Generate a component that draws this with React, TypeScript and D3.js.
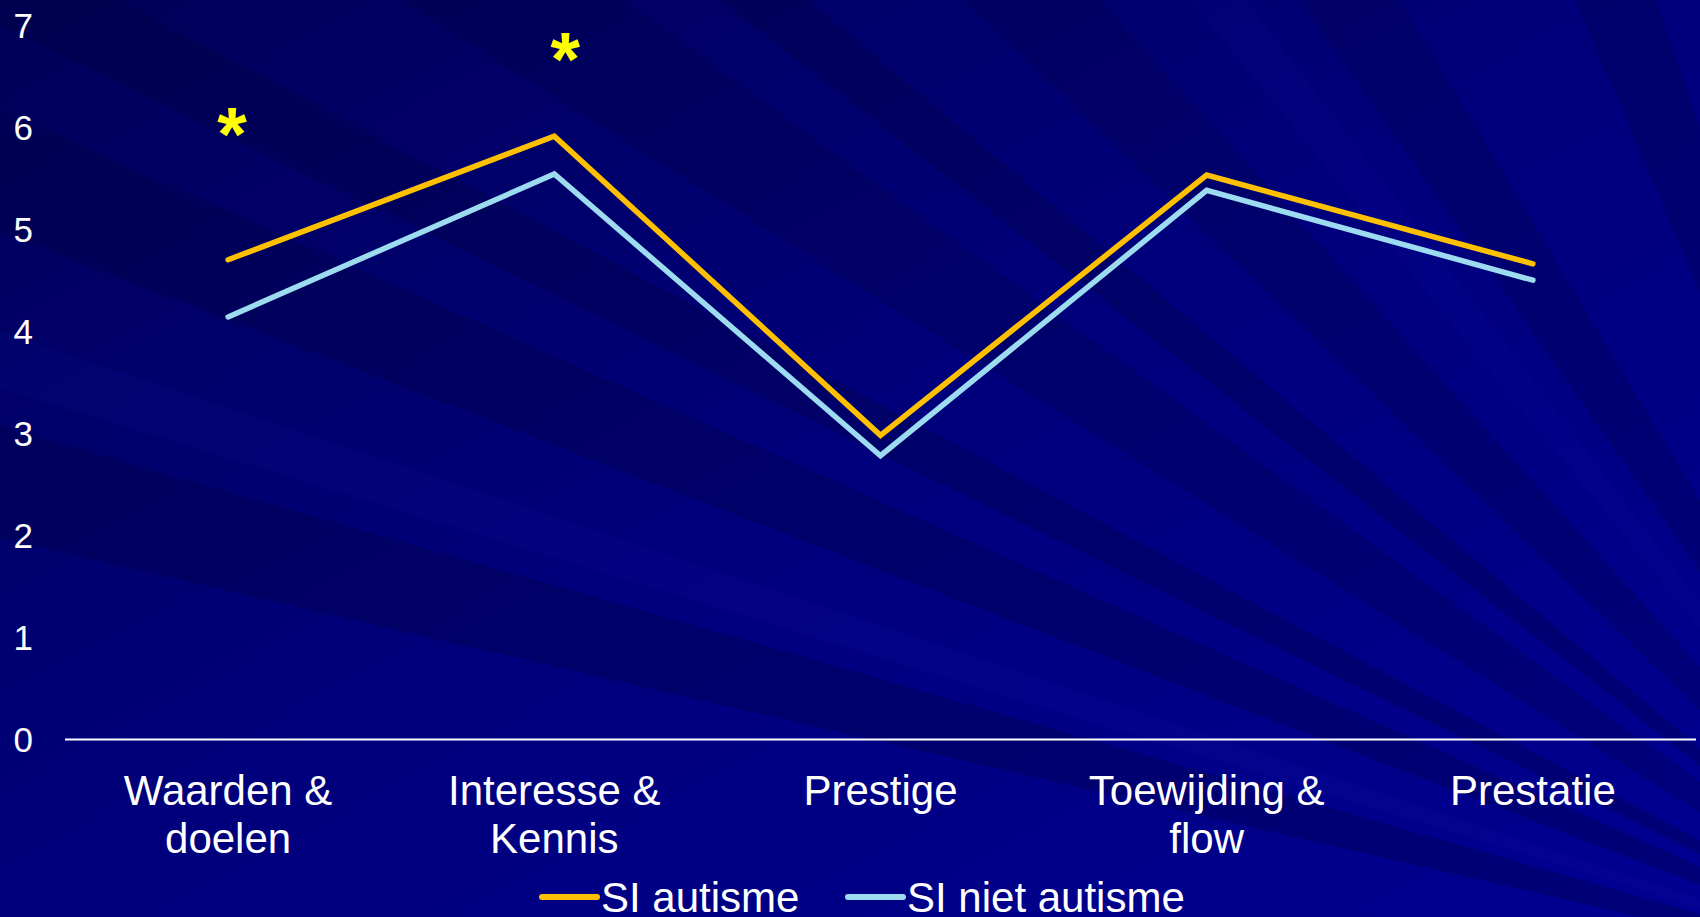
import React, { useEffect, useRef } from 'react';
import * as d3 from 'd3';

// categories (x axis), two lines for the legend
const categories = ['Waarden & doelen', 'Interesse & Kennis', 'Prestige', 'Toewijding & flow', 'Prestatie'];
const categoryLines = [['Waarden &', 'doelen'], ['Interesse &', 'Kennis'], ['Prestige'], ['Toewijding &', 'flow'], ['Prestatie']];

const siAutisme = [4.7, 5.91, 2.98, 5.53, 4.66];
const siNietAutisme = [4.14, 5.54, 2.78, 5.38, 4.5];

const yTicks = [0, 1, 2, 3, 4, 5, 6, 7];

// significance markers: category index + height in axis units
const markers = [
    { cat: 0, value: 6.11 },
    { cat: 1, value: 6.84 },
];
const markerDx = [4, 11];

const seriesList = [
    { name: 'SI autisme', values: siAutisme, color: '#FFC000' },
    { name: 'SI niet autisme', values: siNietAutisme, color: '#9DDCF0' },
];

// background rays (angle from / to in degrees, fill, opacity)
const rays = [
    [193, 196, '#000040', 0.3],
    [197, 198.5, '#1818b0', 0.12],
    [201, 204, '#000040', 0.3],
    [206, 208, '#000040', 0.3],
    [212, 216, '#000040', 0.25],
    [218, 220, '#000040', 0.3],
    [224, 228, '#000040', 0.25],
    [231, 233, '#1818b0', 0.1],
    [235, 239, '#000040', 0.25],
    [247, 251, '#000040', 0.25],
];

function Chart() {
    const ref = useRef(null);

    useEffect(() => {
        const svg = d3.select(ref.current);
        svg.selectAll('*').remove();

        const W = 1700, H = 917;
        const font = '"Liberation Sans", Arial, sans-serif';

        // background
        const defs = svg.append('defs');
        const grad = defs.append('linearGradient').attr('id', 'bg')
            .attr('x1', 0).attr('y1', 0).attr('x2', 1).attr('y2', 1);
        grad.append('stop').attr('offset', 0).attr('stop-color', '#000058');
        grad.append('stop').attr('offset', 0.5).attr('stop-color', '#00007c');
        grad.append('stop').attr('offset', 1).attr('stop-color', '#000092');
        svg.append('rect').attr('width', W).attr('height', H).attr('fill', 'url(#bg)');

        const cx = 2000, cy = 1000, R = 3000;
        const rad = a => a * Math.PI / 180;
        svg.append('g').selectAll('path').data(rays).join('path')
            .attr('d', d => `M${cx},${cy}L${cx + R * Math.cos(rad(d[0]))},${cy + R * Math.sin(rad(d[0]))}L${cx + R * Math.cos(rad(d[1]))},${cy + R * Math.sin(rad(d[1]))}Z`)
            .attr('fill', d => d[2])
            .attr('opacity', d => d[3]);

        const x = d3.scaleBand().domain(categories).range([65, 1696]);
        const xc = (i) => x(categories[i]) + x.bandwidth() / 2;
        const y = d3.scaleLinear().domain([0, 7]).range([739.5, 25]);

        // y tick labels
        svg.append('g').selectAll('text').data(yTicks).join('text')
            .attr('x', 33).attr('y', d => y(d))
            .attr('dy', '0.36em')
            .attr('text-anchor', 'end')
            .attr('fill', 'white')
            .style('font-family', font).style('font-size', '35px')
            .text(d => d);

        // baseline
        svg.append('line')
            .attr('x1', 65).attr('x2', 1696)
            .attr('y1', y(0)).attr('y2', y(0))
            .attr('stroke', 'white').attr('stroke-width', 2);

        // category labels
        const cl = svg.append('g').selectAll('text').data(categoryLines).join('text')
            .attr('text-anchor', 'middle')
            .attr('fill', 'white')
            .style('font-family', font).style('font-size', '42px');
        cl.selectAll('tspan').data((d, i) => d.map(t => ({ t, i }))).join('tspan')
            .attr('x', d => xc(d.i))
            .attr('y', (d, j) => y(0) + 65.5 + j * 48)
            .text(d => d.t);

        // lines
        const line = d3.line().x((d, i) => xc(i)).y(d => y(d));
        seriesList.forEach(s => {
            svg.append('path')
                .attr('d', line(s.values))
                .attr('fill', 'none')
                .attr('stroke', s.color)
                .attr('stroke-width', 5.5)
                .attr('stroke-linejoin', 'miter')
                .attr('stroke-linecap', 'round');
        });

        // markers
        svg.append('g').selectAll('text').data(markers).join('text')
            .attr('x', (d, i) => xc(d.cat) + markerDx[i])
            .attr('y', d => y(d.value) + 44)
            .attr('text-anchor', 'middle')
            .attr('fill', '#FFFF00')
            .style('font-family', font).style('font-size', '76px').style('font-weight', 'bold')
            .text('*');

        // legend
        const legendX = [542, 848];
        const lg = svg.append('g').selectAll('g').data(seriesList).join('g')
            .attr('transform', (d, i) => `translate(${legendX[i]},0)`);
        lg.append('line')
            .attr('x1', 0).attr('x2', 55).attr('y1', 897).attr('y2', 897)
            .attr('stroke', d => d.color).attr('stroke-width', 6).attr('stroke-linecap', 'round');
        lg.append('text')
            .attr('x', 59).attr('y', 912)
            .attr('fill', 'white')
            .style('font-family', font).style('font-size', '42px')
            .text(d => d.name);
    }, []);

    return (
        <svg ref={ref} width={1700} height={917}
            style={{ position: 'absolute', left: 0, top: 0, display: 'block' }} />
    );
}

export default function App() {
    return <Chart />;
}
